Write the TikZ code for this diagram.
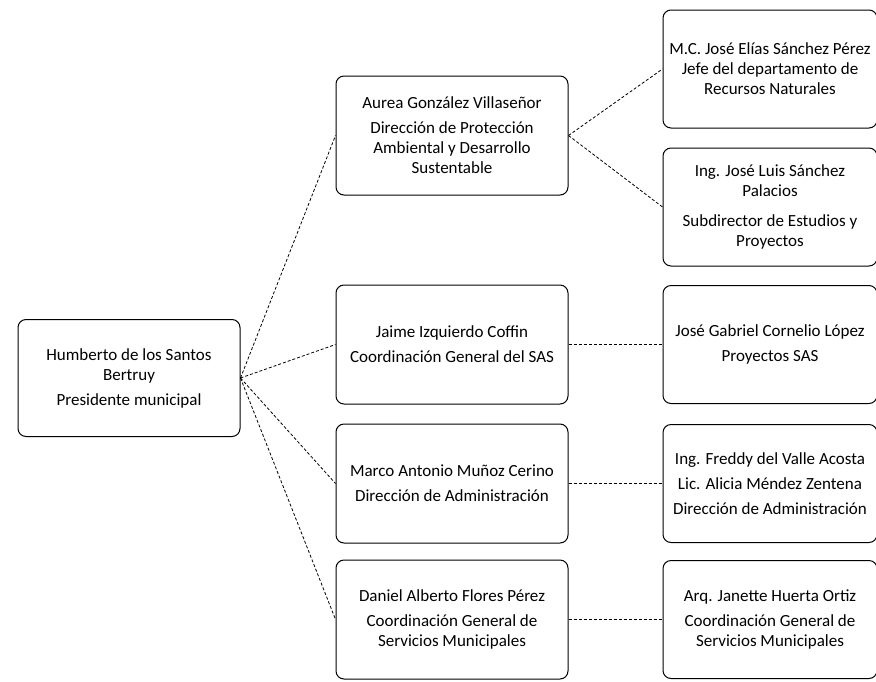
\documentclass[tikz,border=0pt]{standalone}
\usepackage{fontspec}
\setmainfont{Carlito}
\usepackage{tikz}
\usetikzlibrary{positioning}
\tikzstyle{boss} = [rectangle, rounded corners=8pt, draw=black, line width=1pt, text=black, align=center, font=\fontsize{17}{20}\selectfont, minimum width=222pt, minimum height=117pt, inner sep=2pt]
\tikzstyle{unit} = [boss, minimum width=232pt, minimum height=119pt]
\tikzstyle{staff} = [boss, minimum width=214pt, minimum height=118pt]
\tikzstyle{link} = [draw, black, line width=0.8pt, dash pattern=on 3pt off 2pt]

\begin{document}
\begin{tikzpicture}[x=1pt, y=-1pt]

\useasboundingbox (0,0) rectangle (876,681);

% president
\node[boss] (pres) at (129,378) {Humberto de los Santos\\Bertruy\\[5pt]Presidente municipal};

% direcciones
\node[unit] (dirA) at (452,135.5) {Aurea González Villaseñor\\[5pt]Dirección de Protección\\Ambiental y Desarrollo\\Sustentable};
\node[unit, below=89pt of dirA] (dirB) {Jaime Izquierdo Coffin\\[5pt]Coordinación General del SAS};
\node[unit, below=19pt of dirB] (dirC) {Marco Antonio Muñoz Cerino\\[5pt]Dirección de Administración};
\node[unit, below=16pt of dirC] (dirD) {Daniel Alberto Flores Pérez\\[5pt]Coordinación General de\\Servicios Municipales};

% staff
\node[staff, right=94pt of dirA, yshift=66.5pt] (staffE) {M.C. José Elías Sánchez Pérez\\Jefe del departamento de\\Recursos Naturales};
\node[staff, below=19pt of staffE] (staffF) {Ing. José Luis Sánchez\\Palacios\\[10pt]Subdirector de Estudios y\\Proyectos};
\node[staff, right=94pt of dirB] (staffG) {José Gabriel Cornelio López\\[5pt]Proyectos SAS};
\node[staff, right=94pt of dirC] (staffH) {Ing. Freddy del Valle Acosta\\[5pt]Lic. Alicia Méndez Zentena\\[5pt]Dirección de Administración};
\node[staff, right=94pt of dirD] (staffI) {Arq. Janette Huerta Ortiz\\[5pt]Coordinación General de\\Servicios Municipales};

%edges
\path[link] (pres.east) -- (dirA.west);
\path[link] (pres.east) -- (dirB.west);
\path[link] (pres.east) -- (dirC.west);
\path[link] (pres.east) -- (dirD.west);

\path[link] (dirA.east) -- (staffE.west);
\path[link] (dirA.east) -- (staffF.west);
\path[link] (dirB.east) -- (staffG.west);
\path[link] (dirC.east) -- (staffH.west);
\path[link] (dirD.east) -- (staffI.west);

\end{tikzpicture}
\end{document}
